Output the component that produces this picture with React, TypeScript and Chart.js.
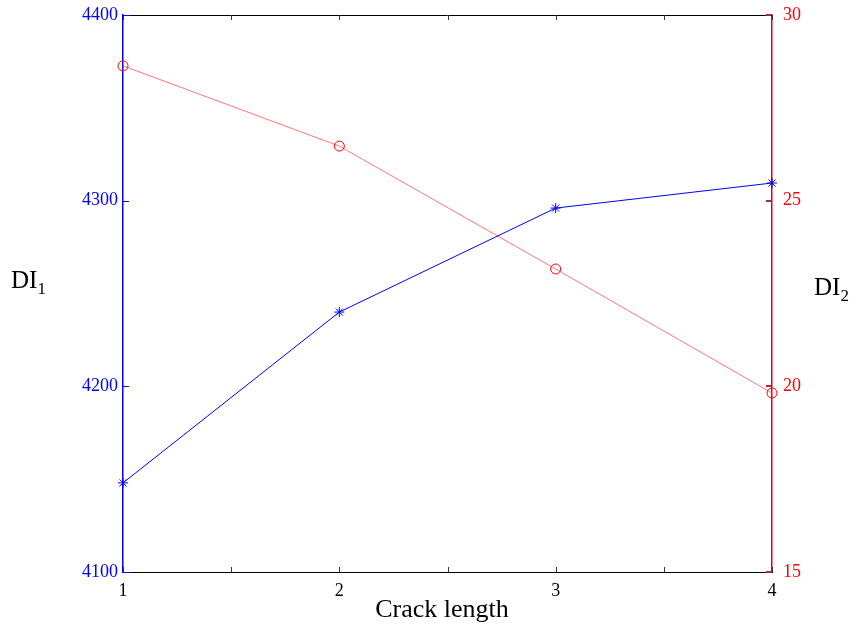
import React, { useEffect, useRef } from "react";
import { Chart, registerables } from "chart.js";

Chart.register(...registerables);

const crackLength = [1, 2, 3, 4];
const di1Values = [4148, 4240, 4296, 4309.5];
const di2Values = [28.63, 26.47, 23.16, 19.82];
const xTickLabels = ["1", "2", "3", "4"];
const di1Ticks = [4100, 4200, 4300, 4400];
const di2Ticks = [15, 20, 25, 30];
const xMinorTicks = [1, 1.5, 2, 2.5, 3, 3.5, 4];

const SERIF = '"Liberation Serif", "Times New Roman", serif';

const decorPlugin = {
  id: "decor",
  afterDraw(chart: any) {
    const { ctx, chartArea, scales } = chart;
    const { left, right, top, bottom } = chartArea;
    ctx.save();
    // top border
    ctx.strokeStyle = "#000";
    ctx.lineWidth = 1;
    ctx.beginPath();
    ctx.moveTo(left, top + 0.5);
    ctx.lineTo(right, top + 0.5);
    ctx.stroke();
    // x ticks inward, top and bottom
    ctx.strokeStyle = "#333";
    xMinorTicks.forEach((v) => {
      const px = Math.round(scales.x.getPixelForValue(v)) + 0.5;
      ctx.beginPath();
      ctx.moveTo(px, bottom);
      ctx.lineTo(px, bottom - 5);
      ctx.moveTo(px, top);
      ctx.lineTo(px, top + 5);
      ctx.stroke();
    });
    // left ticks
    ctx.strokeStyle = "#0000ff";
    di1Ticks.forEach((v) => {
      const py = Math.round(scales.y1.getPixelForValue(v)) + 0.5;
      ctx.beginPath();
      ctx.moveTo(left, py);
      ctx.lineTo(left + 6, py);
      ctx.stroke();
    });
    // right ticks
    ctx.strokeStyle = "#b0205a";
    ctx.lineWidth = 2;
    di2Ticks.forEach((v) => {
      const py = Math.round(scales.y2.getPixelForValue(v));
      ctx.beginPath();
      ctx.moveTo(right - 6, py);
      ctx.lineTo(right - 1, py);
      ctx.stroke();
    });
    // titles
    ctx.fillStyle = "#000";
    ctx.textBaseline = "alphabetic";
    ctx.textAlign = "left";
    ctx.font = `25px ${SERIF}`;
    ctx.fillText("DI", 11, 288);
    let w = ctx.measureText("DI").width;
    ctx.font = `17px ${SERIF}`;
    ctx.fillText("1", 11 + w, 294);
    ctx.font = `25px ${SERIF}`;
    ctx.fillText("DI", 814, 295);
    w = ctx.measureText("DI").width;
    ctx.font = `17px ${SERIF}`;
    ctx.fillText("2", 814 + w, 301);
    ctx.font = `26px ${SERIF}`;
    ctx.textAlign = "center";
    ctx.fillText("Crack length", 442, 617);
    ctx.restore();
  },
};

export default function App() {
  const ref = useRef<HTMLCanvasElement>(null);
  useEffect(() => {
    if (!ref.current) return;
    const chart = new Chart(ref.current, {
      type: "line",
      data: {
        datasets: [
          {
            label: "DI1",
            data: crackLength.map((x, i) => ({ x, y: di1Values[i] })),
            yAxisID: "y1",
            borderColor: "#0000ff",
            borderWidth: 1,
            pointStyle: "star",
            pointRadius: 5,
            pointBorderColor: "#0000ff",
            pointBorderWidth: 1,
            backgroundColor: "#0000ff",
            clip: false as any,
          },
          {
            label: "DI2",
            data: crackLength.map((x, i) => ({ x, y: di2Values[i] })),
            yAxisID: "y2",
            borderColor: "rgba(255,60,60,0.7)",
            borderWidth: 1,
            pointStyle: "circle",
            pointRadius: 5,
            pointBorderColor: "#ff0000",
            pointBackgroundColor: "rgba(0,0,0,0)",
            pointBorderWidth: 1,
            clip: false as any,
          },
        ],
      },
      options: {
        animation: false,
        responsive: false,
        layout: { padding: { top: 15, left: 0, right: 0, bottom: 0 } },
        plugins: { legend: { display: false }, tooltip: { enabled: false } },
        scales: {
          x: {
            type: "linear",
            min: 1,
            max: 4,
            ticks: {
              stepSize: 1,
              color: "#000",
              font: { family: SERIF, size: 18 },
              padding: 8,
              maxRotation: 0,
              callback: (v: any) => {
                const i = crackLength.indexOf(Number(v));
                return i >= 0 ? xTickLabels[i] : "";
              },
            },
            grid: { display: false, drawTicks: false },
            border: { color: "#000", width: 1 },
            afterFit: (s: any) => {
              s.height = 56;
              s.paddingLeft = 0;
              s.paddingRight = 0;
            },
          },
          y1: {
            type: "linear",
            position: "left",
            min: 4100,
            max: 4400,
            ticks: {
              stepSize: 100,
              color: "#0000ff",
              font: { family: SERIF, size: 18 },
              padding: 5,
              callback: (v: any) => String(v),
            },
            grid: { display: false, drawTicks: false },
            border: { color: "#0000ff", width: 1.5 },
            afterFit: (s: any) => {
              s.width = 123;
              s.paddingTop = 0;
              s.paddingBottom = 0;
            },
          },
          y2: {
            type: "linear",
            position: "right",
            min: 15,
            max: 30,
            ticks: {
              stepSize: 5,
              color: "#ff0000",
              font: { family: SERIF, size: 18 },
              padding: 11,
              callback: (v: any) => String(v),
            },
            grid: { display: false, drawTicks: false },
            border: { color: "#e00020", width: 1.5 },
            afterFit: (s: any) => {
              s.width = 84;
              s.paddingTop = 0;
              s.paddingBottom = 0;
            },
          },
        },
      },
      plugins: [decorPlugin],
    });
    return () => chart.destroy();
  }, []);
  return (
    <div style={{ position: "absolute", left: 0, top: 0, width: 856, height: 628, background: "#fff" }}>
      <canvas ref={ref} width={856} height={628} style={{ display: "block" }} />
    </div>
  );
}
